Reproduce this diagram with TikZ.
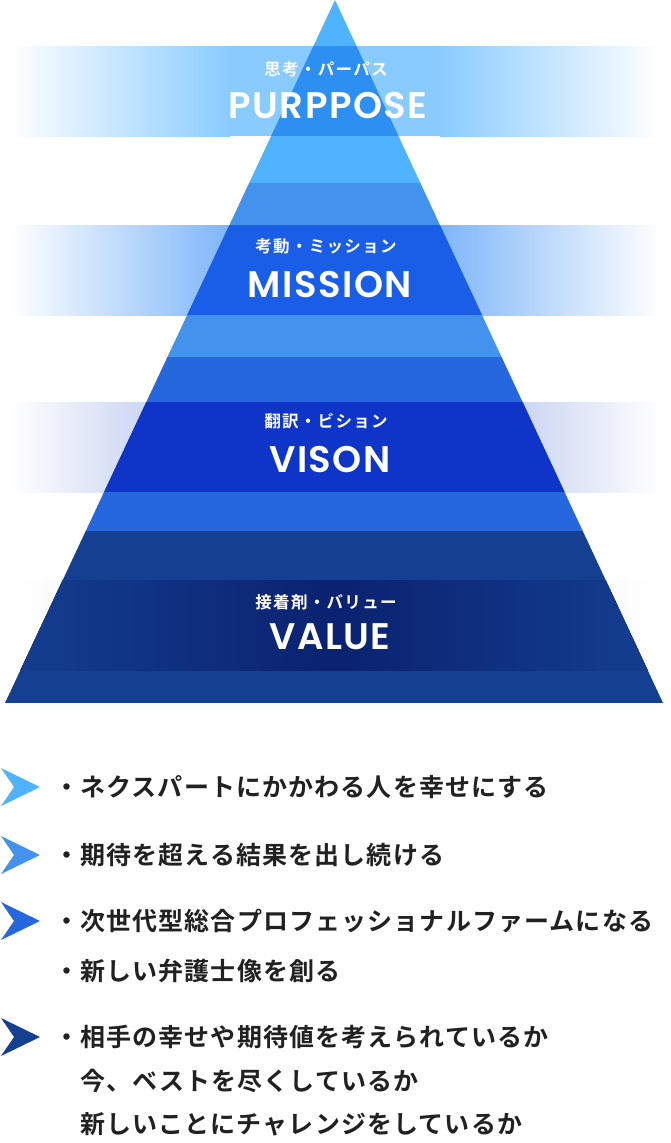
\documentclass[tikz,border=0pt]{standalone}
\usepackage{fontspec}
\setmainfont{Noto Sans CJK JP Bold}
\newfontfamily\popf{Poppins SemiBold}[LetterSpace=4]
\newfontfamily\jpsp{Noto Sans CJK JP Bold}[LetterSpace=8]
\newfontfamily\jpit{Noto Sans CJK JP Bold}[LetterSpace=4.5]
\begin{document}
\begin{tikzpicture}[x=1pt,y=-1pt,
  lab/.style={text=white,font=\jpsp\fontsize{16.5}{16.5}\selectfont,inner sep=0},
  big/.style={text=white,font=\popf\fontsize{37}{37}\selectfont,inner sep=0},
  item/.style={anchor=west,text=black!87,font=\jpit\fontsize{25}{28}\selectfont,inner sep=0,align=left},
  chev/.style={draw=none}]
\useasboundingbox (0,0) rectangle (670,1143);
\definecolor{ta}{HTML}{4FB3FF}\definecolor{tb}{HTML}{4393EE}
\definecolor{tc}{HTML}{2667DE}\definecolor{td}{HTML}{153F91}
\definecolor{oa}{HTML}{8ACBFF}\definecolor{ob}{HTML}{72AFF8}
\definecolor{oc}{HTML}{9AAEE6}\definecolor{od}{HTML}{E4E9F4}
\definecolor{ia}{HTML}{2E8FF2}\definecolor{ib}{HTML}{1A5EE8}
\definecolor{ic}{HTML}{0E35C8}\definecolor{id}{HTML}{0A2270}
% outside bands
\foreach \y/\c/\w in {46/oa/230,225/ob/250,402/oc/280,580/od/300}{
  \fill[left color=white,right color=\c] (10,\y) rectangle (\w,\y+90);
  \fill[\c] (\w,\y) rectangle (670-\w,\y+90);
  \fill[left color=\c,right color=white] (670-\w,\y) rectangle (660,\y+90);
}
% tiers
\coordinate (apex) at (335,0);
\begin{scope}
\clip (335,0) -- (663,703) -- (5,703) -- cycle;
\fill[ta] (0,0) rectangle (670,183);
\fill[tb] (0,183) rectangle (670,357);
\fill[tc] (0,357) rectangle (670,531);
\fill[td] (0,531) rectangle (670,703);
\fill[ia] (0,46) rectangle (670,136);
\fill[ib] (0,225) rectangle (670,315);
\fill[ic] (0,402) rectangle (670,492);
\fill[left color=td,right color=id] (0,580) rectangle (335,670);
\fill[left color=id,right color=td] (335,580) rectangle (670,670);
\end{scope}
\node[lab] (l1) at (326,69) {思考・パーパス};
\node[big] (b1) at (328,106) {PURPPOSE};
\node[lab] (l2) at (326,246) {考動・ミッション};
\node[big] (b2) at (330,285) {MISSION};
\node[lab] (l3) at (326,421) {翻訳・ビション};
\node[big] (b3) at (330,460) {VISON};
\node[lab] (l4) at (326,602) {接着剤・バリュー};
\node[big] (b4) at (330,637) {VALUE};
% chevrons
\foreach \y/\c in {787/ta,855/tb,921/tc,1037/td}{
  \fill[\c] (1,\y-19) -- (40,\y) -- (1,\y+19) -- (14,\y) -- cycle;
}
\node[item] (t1) at (54,787) {・ネクスパートにかかわる人を幸せにする};
\node[item] (t2) at (54,855) {・期待を超える結果を出し続ける};
\node[item] (t3) at (54,921) {・次世代型総合プロフェッショナルファームになる};
\node[item] (t4) at (54,971) {・新しい弁護士像を創る};
\node[item] (t5) at (54,1037) {・相手の幸せや期待値を考えられているか};
\node[item] (t6) at (80,1081) {今、ベストを尽くしているか};
\node[item] (t7) at (80,1124) {新しいことにチャレンジをしているか};
\end{tikzpicture}
\end{document}
